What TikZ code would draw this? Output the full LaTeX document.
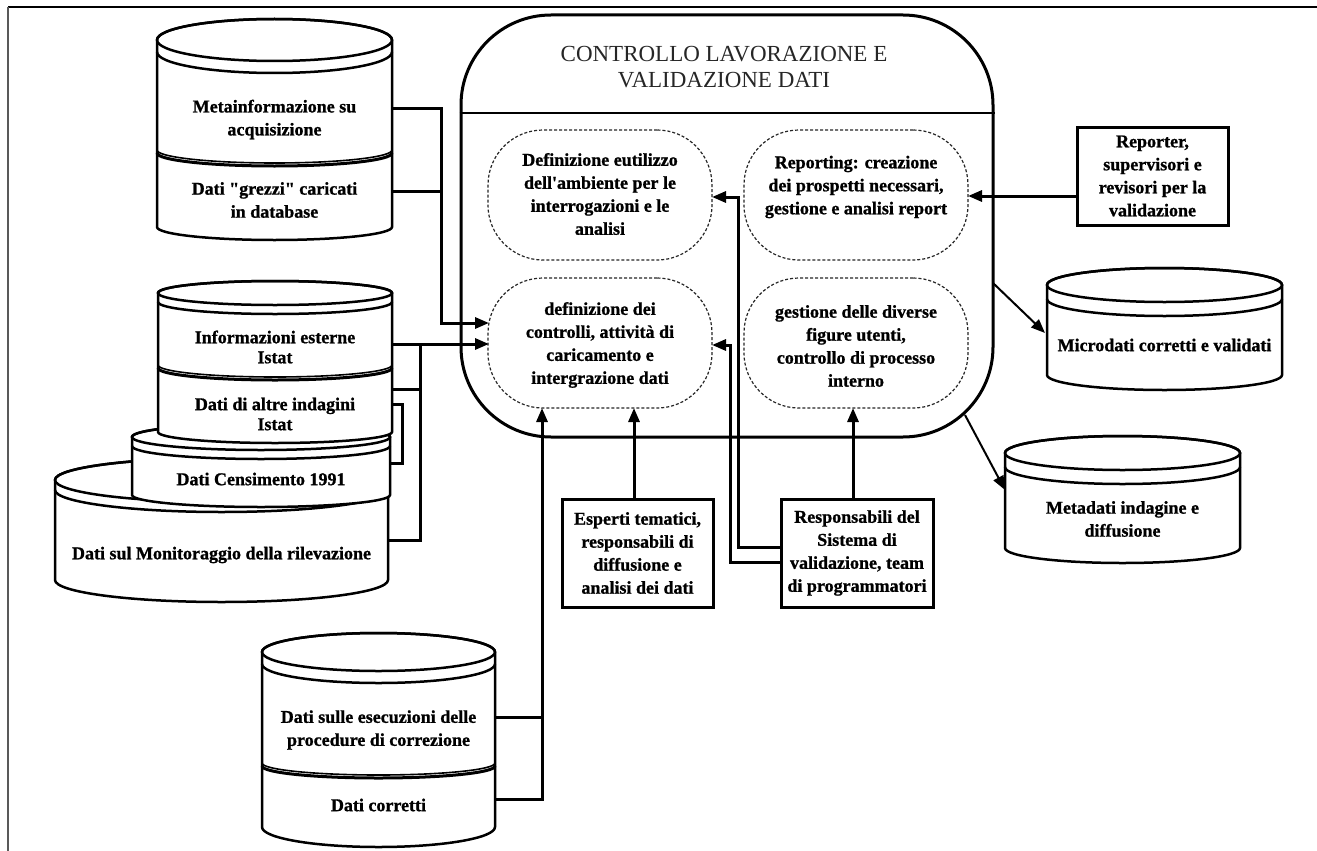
\documentclass[tikz,border=0pt]{standalone}
\usepackage{fontspec}
\setmainfont{Liberation Serif}[Ligatures=TeXOff, BoldFeatures={FakeBold=1}]
\usetikzlibrary{arrows.meta}

% cylinder: x1, x2, y of top ellipse centre, top radius, y of bottom sides, bottom radius, ring offset
\newcommand{\dbcyl}[7]{%
  \pgfmathsetmacro{\cylrx}{(#2-#1)/2}%
  \pgfmathsetmacro{\cylcx}{(#1+#2)/2}%
  \filldraw[cylline, fill=white] (#1,#3) -- (#1,#5)
     arc[start angle=180, end angle=0, x radius=\cylrx, y radius=#6]
     -- (#2,#3)
     arc[start angle=0, end angle=-180, x radius=\cylrx, y radius=#4] -- cycle;
  \draw[cylline] (\cylcx,#3) ellipse[x radius=\cylrx, y radius=#4];
  \draw[cylline] (#1,#3+#7) arc[start angle=180, end angle=0, x radius=\cylrx, y radius=#4];
}
% seam between two stacked cylinder sections: x1, x2, y of sides, radius
\newcommand{\dbseam}[4]{%
  \pgfmathsetmacro{\cylrx}{(#2-#1)/2}%
  \draw[line width=1.6pt] (#1,#3) arc[start angle=180, end angle=0, x radius=\cylrx, y radius=#4];
  \draw[line width=3pt] (#1,#3+3) arc[start angle=180, end angle=0, x radius=\cylrx, y radius=#4];
}

\begin{document}
\begin{tikzpicture}[x=1pt, y=-1pt,
  cylline/.style={line width=2.5pt, draw=black},
  conn/.style={line width=3pt, draw=black},
  arr/.style={-{Triangle[length=14pt,width=11pt]}},
  lbl/.style={font=\fontsize{18}{23}\selectfont\bfseries, align=center, inner sep=0pt},
  tight/.style={font=\fontsize{18}{20}\selectfont\bfseries},
  task/.style={draw=black!85, line width=1.2pt, dash pattern=on 3pt off 2pt,
    rounded corners=55pt, minimum width=224pt, minimum height=130pt, inner sep=0pt},
  actor/.style={draw=black, line width=3pt, fill=white},
]
\useasboundingbox (0,0) rectangle (1317,851);
\fill[white] (0,0) rectangle (1317,851);

% page frame
\draw[line width=2.2pt] (8,7) -- (1317,7);
\draw[line width=2.8pt, black!65] (8,7) -- (8,851);

% data stores on the left
\dbcyl{157}{392}{40}{21}{227}{13}{12}
\dbseam{157}{392}{150}{13}

\dbcyl{55}{388}{480}{22}{580}{22}{10}
\dbcyl{132}{390}{437}{13}{495}{12}{9}
\dbcyl{158}{392}{293}{12}{432}{11}{9}
\dbseam{158}{392}{365}{12}

\dbcyl{262}{495}{652}{19}{827}{20}{12}
\dbseam{262}{495}{763}{12}

% data stores on the right
\dbcyl{1047}{1282}{285}{17}{375}{15}{14}
\dbcyl{1005}{1240}{453}{17}{548}{15}{14}

\node[lbl] (meta) at (274.5,119.5) {Metainformazione su\\acquisizione};
\node[lbl] (grezzi) at (274.5,200) {Dati "grezzi" caricati\\in database};
\node[lbl, tight] (info) at (275,347) {Informazioni esterne\\Istat};
\node[lbl, tight] (altre) at (275,414) {Dati di altre indagini\\Istat};
\node[lbl] (cens) at (261,479) {Dati Censimento 1991};
\node[lbl] (monit) at (221.5,555) {Dati sul Monitoraggio della rilevazione};
\node[lbl] (esec) at (378.5,730) {Dati sulle esecuzioni delle\\procedure di correzione};
\node[lbl] (corr) at (378.5,805) {Dati corretti};
\node[lbl] (micro) at (1164.5,345) {Microdati corretti e validati};
\node[lbl] (metad) at (1122.5,519) {Metadati indagine e\\diffusione};

% central process
\node[draw, line width=3pt, rounded corners=90pt, minimum width=532pt,
  minimum height=422pt] (main) at (727,226) {};
\node[font=\fontsize{23}{26}\selectfont, text=black!85, align=center, inner sep=0pt] (title)
  at (724,67) {CONTROLLO LAVORAZIONE E\\VALIDAZIONE DATI};
\draw[line width=1.5pt] (main.west |- 0,113) -- (main.east |- 0,113);

\node[task] (envq) at (600,195) {};
\node[lbl] (envqT) at (600,194) {Definizione eutilizzo\\dell'ambiente per le\\interrogazioni e le\\analisi};
\node[task] (report) at (856,195) {};
\node[lbl] (reportT) at (856,187) {Reporting: creazione\\dei prospetti necessari,\\gestione e analisi report};
\node[task] (ctrl) at (600,343) {};
\node[lbl] (ctrlT) at (600,345) {definizione dei\\controlli, attività di\\caricamento e\\intergrazione dati};
\node[task] (users) at (856,343) {};
\node[lbl] (usersT) at (856,346) {gestione delle diverse\\figure utenti,\\controllo di processo\\interno};

% actors
\node[actor, lbl, minimum width=151pt, minimum height=108pt] (expert) at (637.5,553)
  {Esperti tematici,\\responsabili di\\diffusione e\\analisi dei dati};
\node[actor, lbl, minimum width=152pt, minimum height=108pt] (dev) at (857,553)
  {Responsabili del\\Sistema di\\validazione, team\\di programmatori};
\node[actor, lbl, minimum width=151pt, minimum height=98pt] (reporter) at (1152.5,176)
  {Reporter,\\supervisori e\\revisori per la\\validazione};

% ports
\coordinate (metaR) at (392,108);
\coordinate (grezR) at (392,191);
\coordinate (busA) at (441,191);
\coordinate (ctrlInA) at (489,323);
\coordinate (infoR) at (392,344);
\coordinate (ctrlInB) at (489,344);
\coordinate (altrR) at (392,389);
\coordinate (busB) at (420,389);
\coordinate (monR) at (388,540);
\coordinate (busBend) at (420,540);
\coordinate (censTop) at (392,404);
\coordinate (censBot) at (390,463);
\coordinate (corrA) at (495,717);
\coordinate (corrB) at (495,799);
\coordinate (ctrlInC) at (542,408);
\coordinate (expUp) at (634,499);
\coordinate (devUp) at (853,499);
\coordinate (devA) at (781,547);
\coordinate (devB) at (781,562);
\coordinate (trunkA) at (738,547);
\coordinate (trunkB) at (730,562);
\coordinate (envIn) at (712,197);
\coordinate (ctrlInD) at (712,345);
\coordinate (repOut) at (1077,196);
\coordinate (repIn) at (968,196);
\coordinate (mainOutA) at (993,283);
\coordinate (microIn) at (1045,333);
\coordinate (mainOutB) at (965,415);
\coordinate (metadIn) at (1005,490);

% connectors
\draw[conn, arr] (metaR) -| (busA) |- (ctrlInA);
\draw[conn] (grezR) -- (busA);
\draw[conn, arr] (infoR) -- (ctrlInB);
\draw[conn] (busB |- infoR) -- (busBend) -- (monR);
\draw[conn] (altrR) -- (busB);
\draw[conn] (censTop) -- ++(10,0) |- (censBot);
\draw[conn, arr] (corrB) -| (ctrlInC);
\draw[conn] (corrA) -- (corrA -| ctrlInC);
\draw[conn, arr] (expUp) -- (expUp |- ctrlInC);
\draw[conn, arr] (devUp) -- (devUp |- ctrlInC);
\draw[conn, arr] (devA) -- (trunkA) |- (envIn);
\draw[conn, arr] (devB) -- (trunkB) |- (ctrlInD);
\draw[conn, arr] (repOut) -- (repIn);
\draw[line width=2pt, arr] (mainOutA) -- (microIn);
\draw[line width=2pt, arr] (mainOutB) -- (metadIn);
\end{tikzpicture}
\end{document}
